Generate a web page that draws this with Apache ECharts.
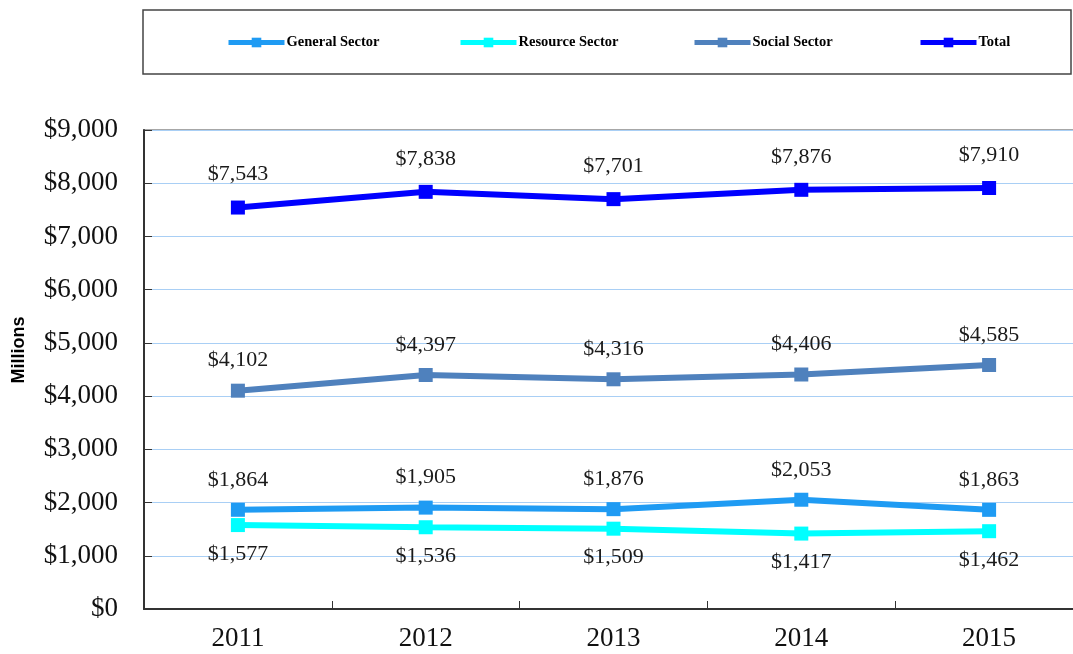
<!DOCTYPE html>
<html>
<head>
<meta charset="utf-8">
<script src="https://cdn.jsdelivr.net/npm/echarts@6/dist/echarts.min.js"></script>
<style>
html,body{margin:0;padding:0;background:#fff;}
#chart{width:1073px;height:654px;}
</style>
</head>
<body>
<div id="chart"></div>
<script>
const years = ['2011', '2012', '2013', '2014', '2015'];
const seriesNames = ['General Sector', 'Resource Sector', 'Social Sector', 'Total'];
const generalSector = [1864, 1905, 1876, 2053, 1863];
const resourceSector = [1577, 1536, 1509, 1417, 1462];
const socialSector = [4102, 4397, 4316, 4406, 4585];
const total = [7543, 7838, 7701, 7876, 7910];
const yTicks = [0, 1000, 2000, 3000, 4000, 5000, 6000, 7000, 8000, 9000];

const colors = ['#1f9bf3', '#00ffff', '#4f81bd', '#0000ff'];
const seriesData = [generalSector, resourceSector, socialSector, total];
const labelOffsets = [[0, -30], [0, 29], [0, -30], [0, -33]];
const legendLefts = [226, 458, 692, 918];

const fmt = v => '$' + v.toLocaleString('en-US');
const serif = '"Liberation Serif", "Times New Roman", serif';

const chart = echarts.init(document.getElementById('chart'), null, {renderer: 'canvas'});

const series = seriesNames.map((name, i) => ({
  name: name,
  type: 'line',
  data: seriesData[i],
  symbol: 'rect',
  symbolSize: 14,
  z: 2 + (i === 1 ? 0 : 1),
  lineStyle: {color: colors[i], width: 6},
  itemStyle: {color: colors[i]},
  label: {
    show: true,
    position: 'inside',
    offset: labelOffsets[i],
    formatter: p => fmt(p.value),
    fontFamily: serif,
    fontSize: 22,
    color: '#1a1a1a'
  },
  emphasis: {disabled: true},
  animation: false
}));

const legends = seriesNames.map((name, i) => ({
  data: [name],
  left: legendLefts[i],
  top: 35,
  padding: 0,
  itemWidth: 56,
  itemHeight: 12,
  itemGap: 4,
  selectedMode: false,
  lineStyle: {width: 5},
  textStyle: {fontFamily: serif, fontWeight: 'bold', fontSize: 14.5, color: '#000', padding: [0, 0, 0, -3]}
}));

chart.setOption({
  backgroundColor: '#fff',
  animation: false,
  legend: legends,
  graphic: [
    {
      type: 'rect',
      shape: {x: 143, y: 10, width: 928, height: 64},
      style: {fill: 'none', stroke: '#444', lineWidth: 1.5},
      silent: true
    },
    {
      type: 'text',
      x: 19,
      y: 350,
      rotation: Math.PI / 2,
      style: {
        text: 'Millions',
        fontFamily: '"Liberation Sans", Arial, sans-serif',
        fontWeight: 'bold',
        fontSize: 18,
        fill: '#000',
        align: 'center',
        verticalAlign: 'middle'
      },
      silent: true
    }
  ],
  grid: {
    left: 144,
    top: 130,
    width: 939,
    height: 479,
    outerBoundsMode: 'none',
    containLabel: false,
    show: true,
    borderColor: '#8a8a8a',
    borderWidth: 1.5,
    backgroundColor: 'transparent'
  },
  xAxis: {
    type: 'category',
    data: years,
    boundaryGap: true,
    axisLine: {lineStyle: {color: '#333', width: 2}},
    axisTick: {show: true, inside: true, length: 8, lineStyle: {color: '#333', width: 1}},
    axisLabel: {fontFamily: serif, fontSize: 27, color: '#111', margin: 16}
  },
  yAxis: {
    type: 'value',
    min: yTicks[0],
    max: yTicks[yTicks.length - 1],
    interval: yTicks[1] - yTicks[0],
    axisLine: {show: true, lineStyle: {color: '#333', width: 2}},
    axisTick: {show: true, inside: true, length: 8, lineStyle: {color: '#333', width: 1}},
    axisLabel: {fontFamily: serif, fontSize: 27, color: '#111', margin: 26, formatter: v => fmt(v)},
    splitLine: {show: true, lineStyle: {color: '#a9cff5', width: 1}}
  },
  series: series
});
</script>
</body>
</html>
